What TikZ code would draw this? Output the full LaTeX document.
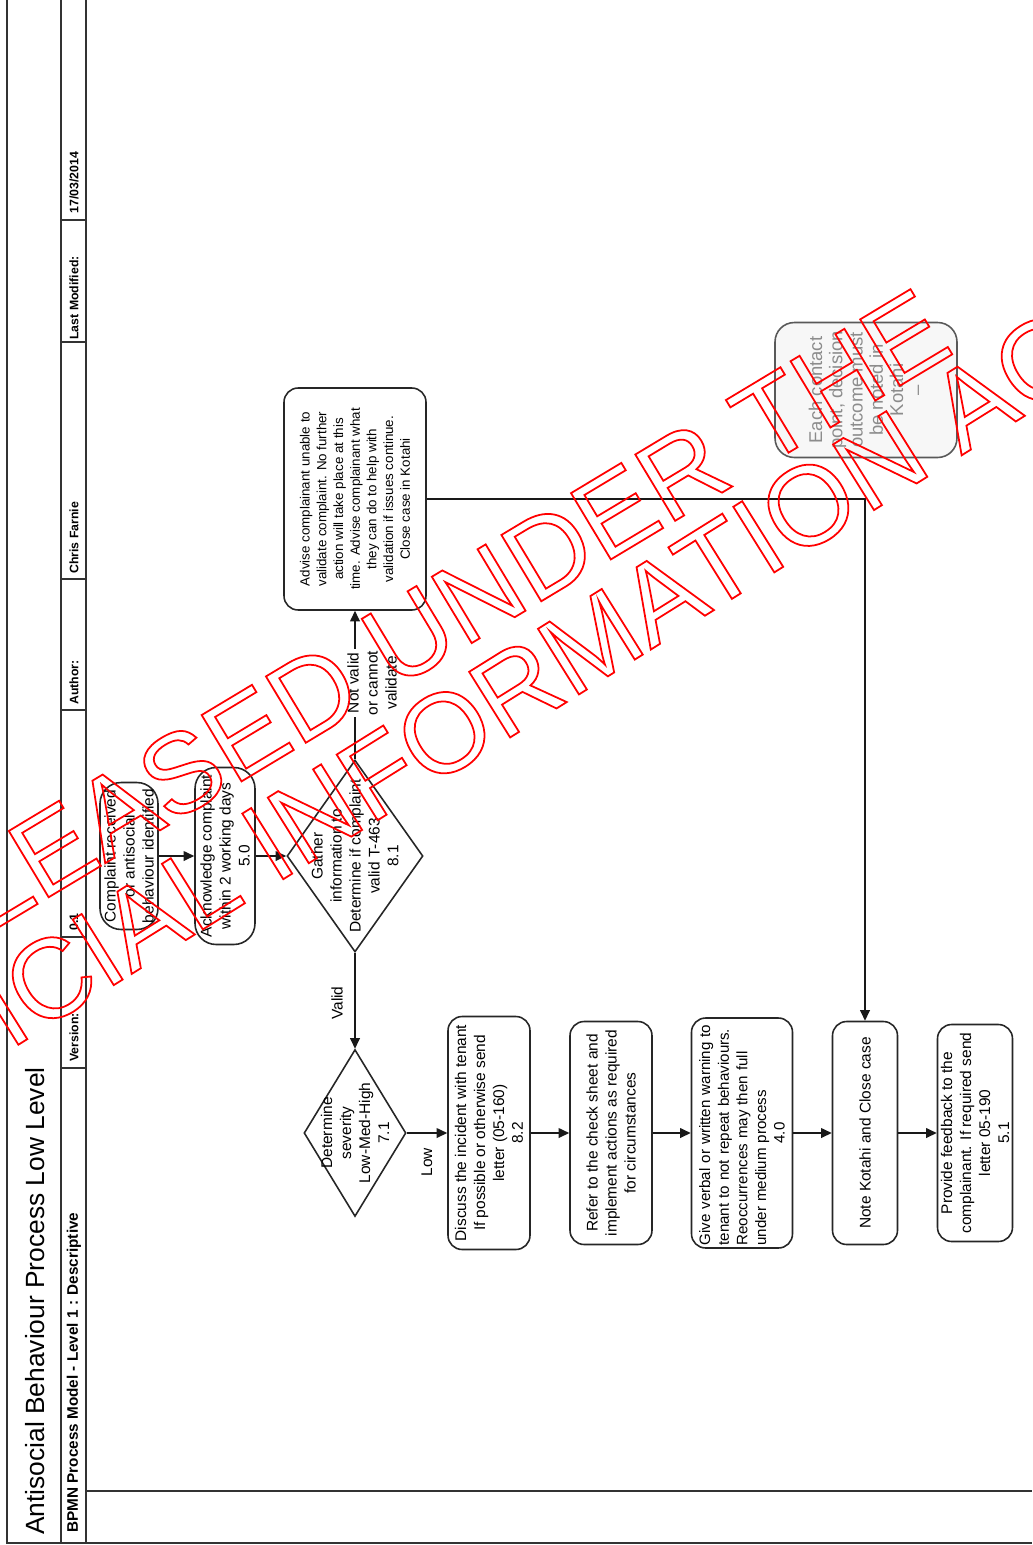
\documentclass[tikz,border=0pt]{standalone}
\usepackage{fontspec}
\setmainfont{Liberation Sans}
\usetikzlibrary{arrows.meta,positioning,shapes.geometric}
\tikzset{
	>={Triangle[length=6pt,width=5.5pt]}, % filled heads on every flow arrow
	task/.style={rectangle, rounded corners=8pt, draw=black!85, line width=0.9pt, rotate=90, align=center, inner sep=1pt, font=\fontsize{8.8}{10.8}\selectfont}, % the whole sheet is turned on its side
	terminal/.style={task, rounded corners=12pt},
	decision/.style={diamond, draw=black!85, line width=0.9pt, rotate=90, inner sep=0pt},
	boxtext/.style={rotate=90, align=center, inner sep=0pt, font=\fontsize{8.8}{10.8}\selectfont}
}
% hollow red letters of the release stamp
\newcommand{\stamptext}[1]{{\color{red}\special{pdf:literal direct 1 Tr 1 w}#1\special{pdf:literal direct 0 Tr}}}
\begin{document}
\begin{tikzpicture}[x=0.02cm, y=-0.02cm,
        flow/.style={->, line width=0.8pt, black!90},
        frame/.style={line width=1pt, black!80},
        hdr/.style={rotate=90, anchor=west, inner sep=0pt, font=\fontsize{7}{8}\selectfont\bfseries},
        lbl/.style={rotate=90, align=center, inner sep=1pt, font=\fontsize{8.8}{10.8}\selectfont},
        wmark/.style={inner sep=0pt, font=\fontsize{64}{64}\selectfont}
        ]
            \useasboundingbox (0,0) rectangle (1032,1545);
            % sheet frame and header band
            \draw[frame] (7,0) -- (7,1543) -- (1032,1543);
            \draw[frame] (61,0) -- (61,1543);
            \draw[frame] (86,0) -- (86,1543);
            \draw[frame] (86,1491) -- (1032,1491);
            \foreach \y in {220,342,579,710,937,1068}
                \draw[frame] (61,\y) -- (86,\y);
            \node[hdr, font=\fontsize{15}{16}\selectfont] (title) at (35,1535) {Antisocial Behaviour Process Low Level};
            \node[hdr, font=\fontsize{8.7}{9.5}\selectfont\bfseries] (bpmn) at (74,1533) {BPMN Process Model - Level 1 : Descriptive};
            \node[hdr] (version) at (74,1062) {Version:};
            \node[hdr] (versionno) at (74,931) {0.1};
            \node[hdr] (author) at (74,705) {Author:};
            \node[hdr] (authorname) at (74,574) {Chris Farnie};
            \node[hdr] (modified) at (74,340) {Last Modified:};
            \node[hdr] (modifieddate) at (74,214) {17/03/2014};
            % process steps
            \node[terminal, minimum width=2.94cm, minimum height=1.16cm] (complaint) at (129,856) {Complaint received\\or antisocial\\behaviour identified};
            \node[terminal, minimum width=3.54cm, minimum height=1.2cm] (ack) at (225,856) {Acknowledge complaint\\within 2 working days\\5.0};
            \node[decision, minimum width=3.84cm, minimum height=2.72cm] (gather) at (355,856) {};
            \node[boxtext] (gathertxt) at (gather.center) {Gather\\information to\\Determine if complaint\\valid T-463\\8.1};
            \node[task, minimum width=4.44cm, minimum height=2.84cm, font=\fontsize{7.6}{9.5}\selectfont] (advise) at (355,499) {Advise complainant unable to\\validate complaint. No further\\action will take place at this\\time. Advise complainant what\\they can do to help with\\validation if issues continue.\\Close case in Kotahi};
            \node[decision, minimum width=3.34cm, minimum height=2.04cm] (severity) at (355,1133) {};
            \node[boxtext] (severitytxt) at (severity.center) {Determine\\severity\\Low-Med-High\\7.1};
            \node[task, minimum width=4.66cm, minimum height=1.64cm] (discuss) at (489,1133) {Discuss the incident with tenant\\If possible or otherwise send\\letter (05-160)\\8.2};
            \node[task, minimum width=4.46cm, minimum height=1.64cm] (refer) at (611,1133) {Refer to the check sheet and\\implement actions as required\\for circumstances};
            \node[task, minimum width=4.6cm, minimum height=2.02cm, text width=4.5cm, align=left, font=\fontsize{8.6}{10.6}\selectfont] (give) at (742,1133) {Give verbal or written warning to\\tenant to not repeat behaviours.\\\makebox[\linewidth][s]{Reoccurrences may then full}\\under medium process\\\makebox[\linewidth]{4.0}};
            \node[task, minimum width=4.46cm, minimum height=1.3cm] (note) at (865,1133) {Note Kotahi and Close case};
            \node[task, minimum width=4.34cm, minimum height=1.5cm] (provide) at (975,1133) {Provide feedback to the\\complainant. If required send\\letter 05-190\\5.1};
            \node[task, rounded corners=11pt, draw=black!65, fill=black!3, text=black!45, minimum width=2.7cm, minimum height=3.64cm, font=\fontsize{10.5}{11.5}\selectfont] (eachcontact) at (866,390) {Each contact\\point, decision\\outcome must\\be noted in\\Kotahi\\--};
            % connectors
            \path[flow]
                (complaint) edge (ack)
                (ack) edge (gather)
                (gather) edge (advise)
                (gather) edge (severity)
                (severity) edge (discuss)
                (discuss) edge (refer)
                (refer) edge (give)
                (give) edge (note)
                (note) edge (provide);
            \draw[flow] (advise.south) -| (note.east);
            \node[lbl, fill=white] (notvalid) at (372,683) {Not valid\\or cannot\\validate};
            \node[lbl] (valid) at (337,1003) {Valid};
            \node[lbl] (low) at (427,1162) {Low};
            % release stamp over the sheet
            \node[wmark, rotate=31] (wmone) at (385,650) {\stamptext{RELEASED UNDER THE}};
            \node[wmark, rotate=32] (wmtwo) at (465,720) {\stamptext{OFFICIAL INFORMATION ACT}};
\end{tikzpicture}
\end{document}
